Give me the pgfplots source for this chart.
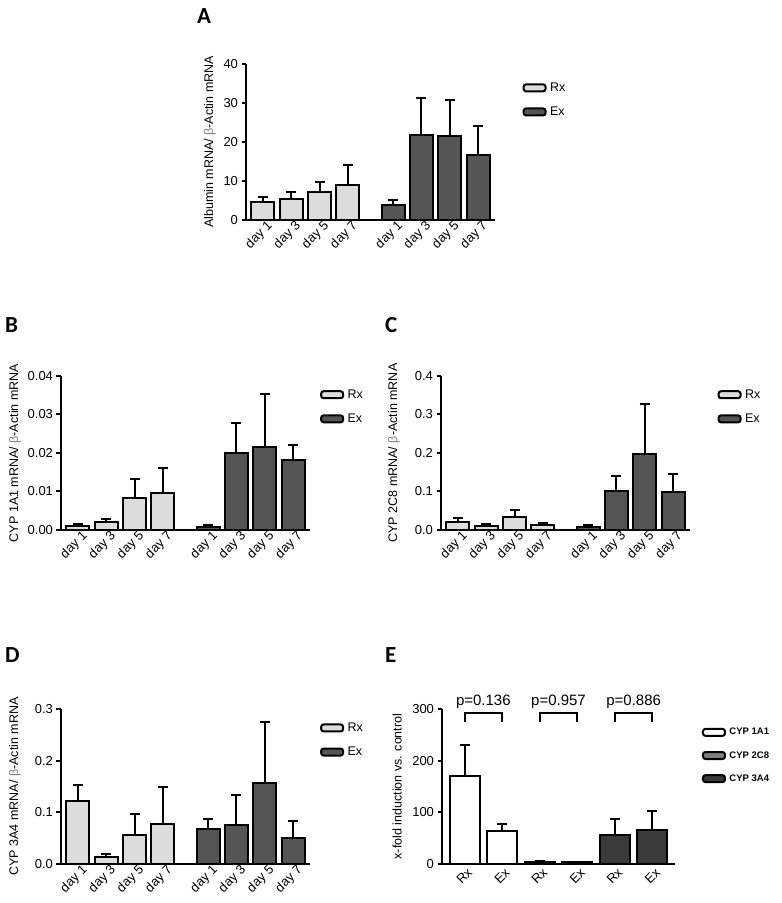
\documentclass[border=0pt]{standalone}
\usepackage{pgfplots}
\pgfplotsset{compat=1.18}
\usepackage{fontspec}
\setmainfont{Liberation Sans}
\newfontfamily\carlito{Carlito}
\definecolor{rxc}{HTML}{DCDCDC}
\definecolor{exc}{HTML}{555555}
\definecolor{c1}{HTML}{FFFFFF}
\definecolor{c2}{HTML}{7F7F7F}
\definecolor{c3}{HTML}{3A3A3A}
\pgfplotsset{
  gp/.style={
    scale only axis,
    anchor=south west,
    axis lines=left,
    axis line style={-, line width=2pt, black},
    tick align=outside,
    major tick length=4.5pt,
    ytick style={line width=2pt, black},
    xtick style={draw=none},
    /pgf/number format/assume math mode=true,
    tick label style={font=\fontsize{13}{15}\selectfont},
    label style={font=\fontsize{12.5}{14}\selectfont},
    xticklabel style={rotate=45, anchor=east, xshift=9pt, yshift=-5pt},
    ymin=0,
    clip=false,
    legend cell align=left,
    legend style={draw=none, fill=none, inner sep=0pt, row sep=7pt, font=\fontsize{12.5}{14}\selectfont, anchor=west, nodes={inner sep=3.5pt}},
    legend image code/.code={\draw[##1,/tikz/.cd,rounded corners=2.5pt,line width=2pt] (0pt,-3.5pt) rectangle (22pt,3.5pt);},
  },
  daysx/.style={
    xmin=-0.6, xmax=8.2,
    xtick={0,1,2,3,4.6,5.6,6.6,7.6},
    xticklabels={day 1,day 3,day 5,day 7,day 1,day 3,day 5,day 7},
  },
  eb/.style={
    error bars/.cd, y dir=plus, y explicit,
    error bar style={line width=2pt, black},
    error mark options={line width=2pt, black, mark size=5pt, rotate=90},
  },
  rxbar/.style={ybar, bar width=23pt, bar shift=0pt, fill=rxc, draw=black, line width=2pt, eb},
  exbar/.style={ybar, bar width=23pt, bar shift=0pt, fill=exc, draw=black, line width=2pt, eb},
  ebar/.style={ybar, bar width=30pt, bar shift=0pt, fill=#1, draw=black, line width=2pt, eb},
}
\begin{document}
\begin{tikzpicture}
\useasboundingbox (0pt,0pt) rectangle (782pt,903pt);

% Panel letters
\node[anchor=west, inner sep=0pt, font=\carlito\bfseries\fontsize{23}{25}\selectfont] at (197pt,887pt) {A};
\node[anchor=west, inner sep=0pt, font=\carlito\bfseries\fontsize{23}{25}\selectfont] at (5pt,578pt) {B};
\node[anchor=west, inner sep=0pt, font=\carlito\bfseries\fontsize{23}{25}\selectfont] at (385pt,578pt) {C};
\node[anchor=west, inner sep=0pt, font=\carlito\bfseries\fontsize{23}{25}\selectfont] at (5pt,248pt) {D};
\node[anchor=west, inner sep=0pt, font=\carlito\bfseries\fontsize{23}{25}\selectfont] at (385pt,248pt) {E};

% A
\begin{axis}[gp, daysx, at={(246pt,683pt)}, width=249pt, height=156pt,
  ymax=40, ytick={0,10,20,30,40},
  ylabel={Albumin mRNA/ {\color{gray}β}-Actin mRNA},
  ylabel style={at={(axis description cs:-0.145,0.5)}, anchor=center},
  legend style={at={(1.11,0.77)}}]
\addplot[rxbar] table[x=x,y=y,y error=e] {
x y e
0 4.5 1.5
1 5.5 1.6
2 7.1 2.75
3 9.1 5.1
};
\addlegendentry{Rx}
\addplot[exbar] table[x=x,y=y,y error=e] {
x y e
4.6 3.8 1.3
5.6 21.9 9.4
6.6 21.6 9.1
7.6 16.7 7.5
};
\addlegendentry{Ex}
\end{axis}

% B
\begin{axis}[gp, daysx, at={(61pt,373pt)}, width=249pt, height=154pt,
  ymax=0.04, ytick={0,0.01,0.02,0.03,0.04},
  yticklabel style={/pgf/number format/.cd, fixed, fixed zerofill, precision=2},
  scaled y ticks=false,
  ylabel={CYP 1A1 mRNA/ {\color{gray}β}-Actin mRNA},
  ylabel style={at={(axis description cs:-0.185,0.5)}, anchor=center},
  legend style={at={(1.04,0.80)}}]
\addplot[rxbar] table[x=x,y=y,y error=e] {
x y e
0 0.00095 0.0006
1 0.0020 0.0008
2 0.0083 0.0049
3 0.0095 0.0065
};
\addlegendentry{Rx}
\addplot[exbar] table[x=x,y=y,y error=e] {
x y e
4.6 0.0009 0.0004
5.6 0.0200 0.0077
6.6 0.0216 0.0136
7.6 0.0182 0.0039
};
\addlegendentry{Ex}
\end{axis}

% C
\begin{axis}[gp, daysx, at={(441pt,373pt)}, width=249pt, height=154pt,
  ymax=0.4, ytick={0,0.1,0.2,0.3,0.4},
  yticklabel style={/pgf/number format/.cd, fixed, fixed zerofill, precision=1},
  scaled y ticks=false,
  ylabel={CYP 2C8 mRNA/ {\color{gray}β}-Actin mRNA},
  ylabel style={at={(axis description cs:-0.189,0.5)}, anchor=center},
  legend style={at={(1.11,0.80)}}]
\addplot[rxbar] table[x=x,y=y,y error=e] {
x y e
0 0.0216 0.0084
1 0.0104 0.0050
2 0.0346 0.0174
3 0.0120 0.0050
};
\addlegendentry{Rx}
\addplot[exbar] table[x=x,y=y,y error=e] {
x y e
4.6 0.0087 0.0043
5.6 0.102 0.037
6.6 0.198 0.128
7.6 0.098 0.047
};
\addlegendentry{Ex}
\end{axis}

% D
\begin{axis}[gp, daysx, at={(61pt,39pt)}, width=249pt, height=155pt,
  ymax=0.3, ytick={0,0.1,0.2,0.3},
  yticklabel style={/pgf/number format/.cd, fixed, fixed zerofill, precision=1},
  scaled y ticks=false,
  ylabel={CYP 3A4 mRNA/ {\color{gray}β}-Actin mRNA},
  ylabel style={at={(axis description cs:-0.185,0.5)}, anchor=center},
  legend style={at={(1.04,0.80)}}]
\addplot[rxbar] table[x=x,y=y,y error=e] {
x y e
0 0.1217 0.032
1 0.0129 0.006
2 0.0554 0.041
3 0.0766 0.072
};
\addlegendentry{Rx}
\addplot[exbar] table[x=x,y=y,y error=e] {
x y e
4.6 0.0676 0.020
5.6 0.0747 0.059
6.6 0.1565 0.119
7.6 0.0509 0.032
};
\addlegendentry{Ex}
\end{axis}

% E
\begin{axis}[gp, at={(442pt,39pt)}, width=233pt, height=155pt,
  xmin=-0.6, xmax=5.6, xtick={0,1,2,3,4,5},
  xticklabels={Rx,Ex,Rx,Ex,Rx,Ex},
  xticklabel style={xshift=-3pt},
  ymax=300, ytick={0,100,200,300},
  ylabel={x-fold induction vs. control},
  ylabel style={at={(axis description cs:-0.193,0.5)}, anchor=center},
  legend style={at={(1.115,0.70)}, font=\bfseries\fontsize{9.5}{11}\selectfont, row sep=8pt}]
\addplot[ebar=c1] table[x=x,y=y,y error=e] {
x y e
0 170 60
1 63 14
};
\addlegendentry{CYP 1A1}
\addplot[ebar=c2] table[x=x,y=y,y error=e] {
x y e
2 4 2
3 3 1
};
\addlegendentry{CYP 2C8}
\addplot[ebar=c3] table[x=x,y=y,y error=e] {
x y e
4 57 31
5 66 37
};
\addlegendentry{CYP 3A4}
\addplot[sharp plot, black, line width=2pt, mark=none, forget plot] coordinates {(0,275) (0,292) (1,292) (1,275)};
\addplot[sharp plot, black, line width=2pt, mark=none, forget plot] coordinates {(2,275) (2,292) (3,292) (3,275)};
\addplot[sharp plot, black, line width=2pt, mark=none, forget plot] coordinates {(4,275) (4,292) (5,292) (5,275)};
\node[font=\fontsize{15}{17}\selectfont, anchor=base] at (axis cs:0.5,306) {p=0.136};
\node[font=\fontsize{15}{17}\selectfont, anchor=base] at (axis cs:2.5,306) {p=0.957};
\node[font=\fontsize{15}{17}\selectfont, anchor=base] at (axis cs:4.5,306) {p=0.886};
\end{axis}
\end{tikzpicture}
\end{document}
